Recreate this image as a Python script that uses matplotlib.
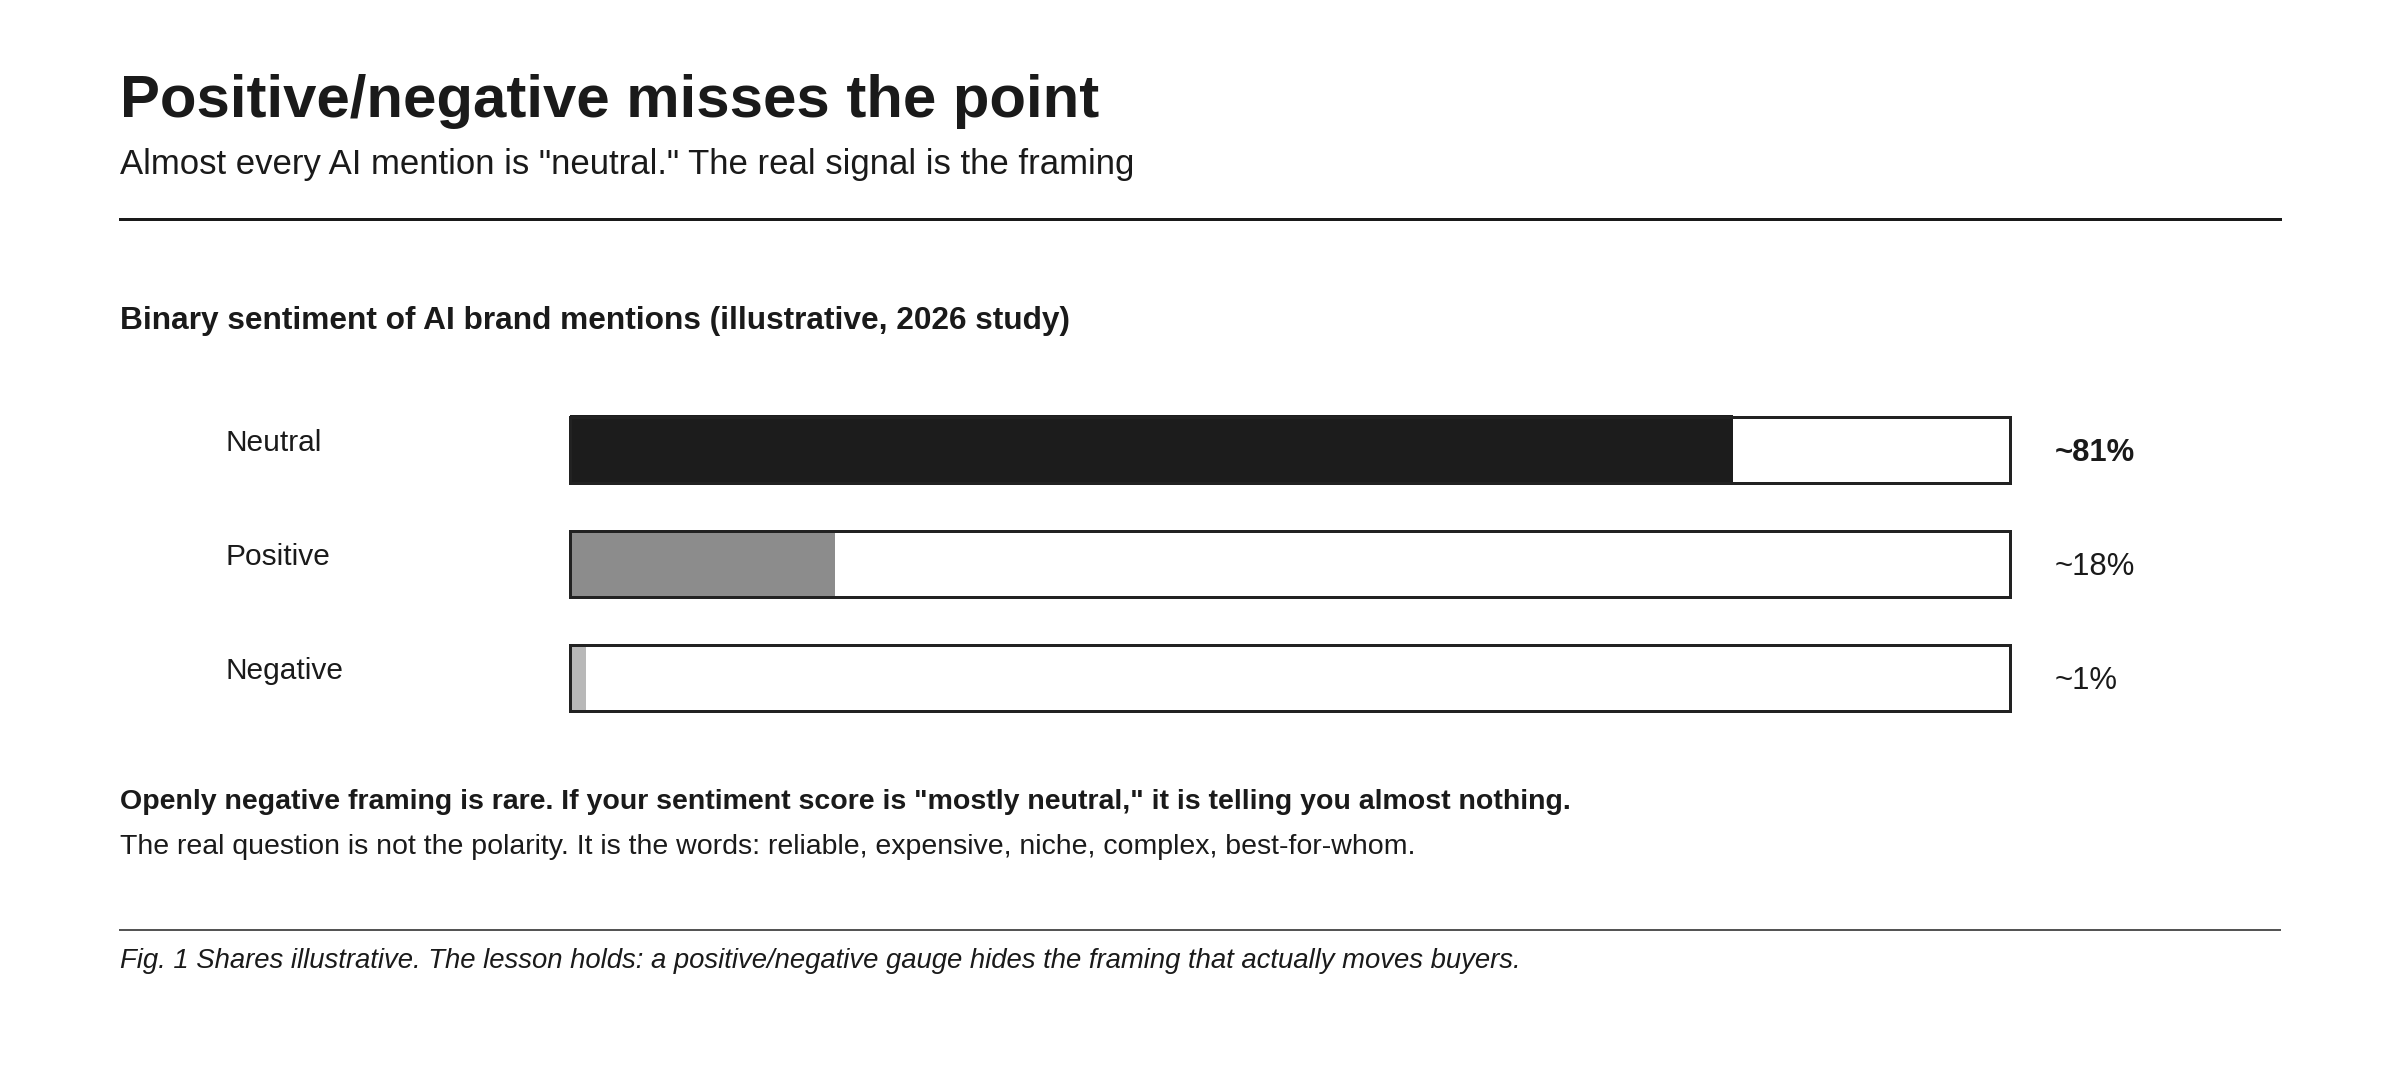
import matplotlib
matplotlib.use('Agg')
import matplotlib.pyplot as plt
from matplotlib.patches import Rectangle
from matplotlib.transforms import blended_transform_factory

plt.rcParams['font.family'] = ['Liberation Sans', 'DejaVu Sans']

# Data
categories = ['Neutral', 'Positive', 'Negative']
shares = [80.8, 18.4, 1.1]
value_labels = ['~81%', '~18%', '~1%']
fill_colors = ['#1c1c1c', '#8c8c8c', '#b8b8b8']

title = 'Positive/negative misses the point'
subtitle = 'Almost every AI mention is "neutral." The real signal is the framing'
heading = 'Binary sentiment of AI brand mentions (illustrative, 2026 study)'
note_bold = ('Openly negative framing is rare. If your sentiment score is '
             '"mostly neutral," it is telling you almost nothing.')
note = ('The real question is not the polarity. It is the words: reliable, '
        'expensive, niche, complex, best-for-whom.')
caption = ('Fig. 1 Shares illustrative. The lesson holds: a positive/negative '
           'gauge hides the framing that actually moves buyers.')

W, H = 2400, 1080
DPI = 100
INK = '#1a1a1a'

fig = plt.figure(figsize=(W / DPI, H / DPI), dpi=DPI)
fig.patch.set_facecolor('white')


def fx(px):
    return px / W


def fy(py):
    return 1 - py / H


def px2pt(px):
    return px * 72 / DPI


# Header
fig.text(fx(120), fy(117), title, fontsize=43.1, fontweight='bold', color=INK, va='baseline')
fig.text(fx(120), fy(174), subtitle, fontsize=25, color=INK, va='baseline')
fig.add_artist(plt.Line2D([fx(120), fx(2280)], [fy(219), fy(219)],
                          color=INK, lw=px2pt(3), transform=fig.transFigure))

fig.text(fx(120), fy(329), heading, fontsize=22.8, fontweight='bold', color=INK, va='baseline')

# Bars: centres ~114.25 px apart, track 66 px tall (edge-centred border of 3 px)
step = 114.25
bar_h = 66 / step
top_px = 449.5 - 66 / 2
ax_h_px = (len(categories) - 1 + bar_h) * step
ax = fig.add_axes([fx(570), fy(top_px + ax_h_px), fx(2009.5) - fx(570), ax_h_px / H])
ax.set_xlim(0, 100)
ax.set_ylim(len(categories) - 1 + bar_h / 2, -bar_h / 2)
ax.axis('off')

label_tr = blended_transform_factory(fig.transFigure, ax.transData)
for i, (cat, val, lab, col) in enumerate(zip(categories, shares, value_labels, fill_colors)):
    pad = 1.5 / step if i == 0 else 0
    ax.add_patch(Rectangle((0, i - bar_h / 2 - pad), val, bar_h + 2 * pad, facecolor=col,
                           edgecolor='none', zorder=2, clip_on=False))
    ax.add_patch(Rectangle((0, i - bar_h / 2), 100, bar_h, facecolor='none',
                           edgecolor='#222222', lw=px2pt(3), zorder=3, clip_on=False))
    ax.text(fx(226), i + 0.013, cat, transform=label_tr, fontsize=21.5,
            color=INK, va='baseline', ha='left')
    ax.text(fx(2055), i + 0.10, lab, transform=label_tr, fontsize=22.3,
            color=INK, va='baseline', ha='left',
            fontweight='bold' if i == 0 else 'normal')

# Notes
fig.text(fx(120), fy(809), note_bold, fontsize=20.5, fontweight='bold', color=INK, va='baseline')
fig.text(fx(120), fy(854), note, fontsize=20.5, color=INK, va='baseline')

fig.add_artist(plt.Line2D([fx(120), fx(2280)], [fy(930), fy(930)],
                          color='#555555', lw=px2pt(2), transform=fig.transFigure))
fig.text(fx(120), fy(968), caption, fontsize=19.8, style='italic', color=INK, va='baseline')

fig.savefig('out.png', dpi=DPI, facecolor='white')
